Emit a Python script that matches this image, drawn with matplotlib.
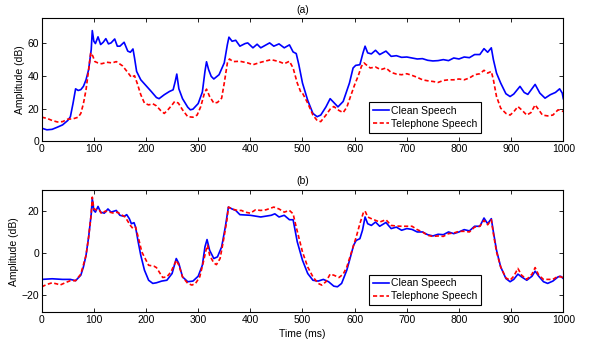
import matplotlib
matplotlib.use("Agg")
import matplotlib.pyplot as plt

plt.rcParams['font.family'] = ['Liberation Sans', 'DejaVu Sans']

# ---- Panel (a) ----
t_a_clean = [0, 10, 20, 30, 40, 50, 55, 60, 65, 70, 75, 80, 85, 90, 95, 97, 100, 103, 108, 113, 118, 123, 128, 133, 140, 145, 150, 158, 165, 170, 175, 178, 182, 190, 200, 210, 220, 225, 235, 245, 252, 256, 259, 263, 270, 280, 285, 290, 300, 308, 313, 316, 320, 325, 330, 340, 350, 356, 359, 365, 372, 380, 390, 395, 405, 413, 420, 428, 437, 445, 455, 465, 475, 482, 488, 493, 500, 510, 520, 528, 535, 545, 553, 560, 568, 578, 590, 597, 602, 610, 616, 620, 625, 632, 640, 648, 660, 670, 680, 690, 700, 710, 720, 730, 740, 750, 760, 770, 780, 790, 800, 810, 820, 830, 840, 848, 855, 862, 866, 872, 880, 890, 898, 905, 917, 925, 932, 946, 955, 965, 975, 985, 993, 998, 1000]
a_clean = [8, 7, 7.3, 8.6, 10, 12.7, 15, 23, 32, 31, 31.5, 33.5, 37.5, 43.7, 56, 67.5, 61, 59.6, 63.7, 59, 60.4, 62.6, 59.4, 60, 62.4, 58, 58, 60.4, 55, 54.3, 56.3, 50.8, 42.6, 37.5, 34, 30.4, 26.7, 26, 28.4, 30.4, 31.4, 36.5, 41, 32, 26, 20.8, 19.2, 19.6, 23, 30, 42.6, 48.5, 43.7, 39.6, 38, 40.6, 47.8, 59, 63.5, 61, 61.6, 58, 59.6, 60, 57, 59.2, 57, 58.4, 60, 58, 59.4, 57, 58.8, 54.5, 53.5, 46.7, 35.5, 25, 17, 15, 16, 21, 26, 23.7, 21, 24.3, 35.5, 44.7, 46.3, 46.7, 53.9, 58, 53.9, 53.3, 55.5, 52.9, 55, 51.8, 52.2, 51.2, 51.4, 50.8, 50.2, 50.4, 49.4, 49, 49.2, 49.8, 49.2, 50.8, 50.2, 51.4, 51, 52.9, 52.9, 56.5, 54.3, 57, 49.8, 41.6, 35.5, 29, 27.3, 28.8, 33.5, 29.8, 28.6, 34.7, 29.4, 26.3, 28.4, 29.8, 32, 29.4, 26]

t_a_tel = [0, 10, 20, 30, 40, 50, 60, 70, 75, 80, 85, 90, 94, 98, 102, 108, 115, 125, 135, 143, 155, 165, 172, 178, 183, 190, 197, 205, 213, 220, 228, 235, 242, 250, 255, 262, 270, 280, 290, 298, 305, 312, 316, 322, 330, 337, 345, 350, 356, 360, 367, 380, 395, 405, 420, 440, 455, 465, 475, 482, 490, 497, 500, 510, 520, 528, 535, 545, 553, 560, 570, 578, 585, 592, 600, 607, 613, 618, 622, 630, 640, 650, 660, 670, 680, 690, 700, 710, 720, 730, 740, 750, 760, 770, 780, 790, 800, 810, 820, 830, 840, 848, 855, 862, 866, 872, 880, 890, 898, 905, 913, 920, 930, 938, 946, 953, 960, 970, 980, 990, 1000]
a_tel = [14.7, 14, 12.7, 11.8, 12, 13.5, 13.7, 14.7, 17, 23, 31.4, 43.7, 54, 52, 48.6, 47.8, 47.3, 48.2, 47.8, 48.6, 46, 42, 39, 40, 35.5, 28.4, 23.3, 22.2, 22.9, 21.6, 18.8, 17, 19.2, 22.2, 24.3, 23.3, 19.2, 15, 14.7, 16, 21.2, 29.4, 31.8, 27.3, 23.3, 23.7, 26.3, 35.5, 47.8, 50.2, 48.6, 48.8, 47.8, 46.7, 48.2, 49.8, 48.6, 47.3, 48.8, 44.7, 35.5, 29.8, 29.4, 23.3, 16, 12.7, 12, 16, 19.6, 21.2, 18.8, 17.5, 20.8, 27.3, 34.5, 40, 45.7, 47.8, 46.7, 44.7, 45.3, 43.7, 44.7, 42, 41, 40.6, 41.2, 40.2, 39, 37.5, 36.9, 36.5, 35.9, 37.1, 37.5, 37.5, 38, 37.5, 38.6, 40.6, 41.2, 43.3, 41.6, 42.6, 37.5, 27.3, 20.2, 17, 16, 18, 21.2, 19.2, 16, 17.5, 22.2, 19.2, 16, 15.5, 16, 19.2, 18.2]

# ---- Panel (b) ----
t_b_clean = [0, 20, 40, 55, 65, 75, 80, 85, 90, 95, 97, 100, 103, 108, 113, 120, 127, 133, 143, 150, 158, 163, 168, 172, 177, 180, 185, 190, 197, 205, 213, 220, 230, 240, 250, 258, 263, 270, 280, 290, 300, 308, 313, 317, 322, 330, 337, 345, 352, 358, 365, 372, 380, 400, 420, 440, 447, 455, 465, 475, 482, 490, 500, 510, 520, 530, 540, 550, 560, 567, 575, 585, 592, 598, 603, 610, 615, 620, 625, 632, 640, 648, 660, 670, 680, 690, 700, 710, 720, 730, 740, 750, 760, 770, 780, 790, 800, 810, 820, 830, 840, 848, 855, 862, 866, 872, 880, 890, 898, 905, 913, 920, 930, 940, 946, 953, 962, 970, 980, 990, 995, 1000]
b_clean = [-12.4, -12.1, -12.4, -12.4, -13, -10.4, -6.5, -1, 7.7, 18.7, 26, 20.3, 19.5, 22.2, 19.5, 19, 21, 19.5, 20.3, 18, 17.5, 18.3, 16.4, 14, 14.5, 12.4, 5.4, -1, -8, -12.8, -14.3, -14, -13.2, -12.8, -9.6, -2.5, -4.9, -11.2, -13.5, -13.2, -10.9, -5.7, 3, 6.5, 1.4, -2.5, -1.7, 3, 12.4, 21.9, 21, 20.3, 18.3, 18, 17.2, 18, 18.7, 17.2, 18, 15.9, 15.9, 5.4, -3.3, -9.6, -12.8, -13.2, -12.4, -13.5, -15.6, -15.9, -14.3, -8, -1.7, 3.8, 6.1, 6.9, 10.9, 17.2, 14, 13.2, 14.8, 12.8, 14.6, 11.7, 12.4, 10.9, 11.7, 11.3, 10.1, 10.1, 8.8, 8.2, 9, 8.8, 10.1, 9.3, 10.1, 11.2, 10.6, 12.8, 12.8, 16.7, 14, 16.4, 10.1, 1.4, -6.5, -12, -13.5, -12.4, -9.9, -11.2, -12.8, -10.9, -8.5, -10.9, -13.5, -14.3, -13.2, -11.2, -10.9, -12]

t_b_tel = [0, 10, 20, 30, 35, 45, 55, 65, 75, 85, 90, 95, 97, 100, 105, 110, 115, 122, 130, 138, 145, 150, 160, 170, 175, 180, 185, 192, 200, 205, 215, 220, 225, 232, 240, 248, 255, 258, 263, 270, 280, 288, 295, 303, 310, 315, 318, 322, 330, 335, 342, 348, 355, 358, 365, 375, 383, 390, 400, 410, 420, 430, 445, 455, 465, 475, 482, 488, 495, 500, 510, 520, 530, 537, 545, 553, 560, 570, 578, 585, 595, 603, 610, 617, 620, 625, 632, 640, 648, 660, 670, 680, 690, 700, 710, 720, 730, 740, 750, 760, 770, 780, 790, 800, 810, 820, 830, 840, 848, 855, 862, 866, 872, 880, 890, 898, 905, 913, 920, 930, 940, 946, 953, 962, 970, 980, 990, 1000]
b_tel = [-15.9, -14.8, -14, -14.6, -15.1, -14, -13, -13, -9.9, -1, 7.7, 18.7, 26.6, 21, 20.6, 20.6, 18.7, 20, 19.5, 19, 19.5, 18.7, 17.2, 13.2, 11.7, 12.4, 7.7, 0.6, -3.3, -5.7, -6.1, -6.8, -8.8, -11.5, -11.2, -8.8, -4.9, -3.3, -5.7, -11.2, -14.3, -15.1, -14.3, -11.2, -4.1, 1.4, 3.8, -1, -4.6, -5.4, -2.5, 5.4, 15.6, 21.9, 21, 20.3, 20.3, 19.5, 19, 20.6, 20.3, 20.6, 21.9, 21, 19.5, 20.3, 18.7, 12.4, 5.4, 0.6, -6.5, -11.2, -14.3, -15.1, -13.5, -9.9, -10.4, -11.5, -9.9, -6.5, 1.4, 7.7, 14, 19.5, 20, 17.2, 16.4, 15.6, 14.8, 15.9, 13.2, 12.9, 12.8, 12.8, 12.8, 11.2, 10.1, 8.5, 8, 8.2, 8, 9.3, 9.6, 10.4, 10.4, 10.1, 12.4, 12.8, 15.6, 13.5, 15.9, 9.3, 0.6, -6.5, -11.7, -12.8, -10.9, -7.2, -10.4, -12.4, -9.9, -6.8, -10.4, -12.4, -12.4, -12.4, -10.9, -11.5]

x_ticks = [0, 100, 200, 300, 400, 500, 600, 700, 800, 900, 1000]
ya_ticks = [0, 20, 40, 60]
yb_ticks = [-20, 0, 20]
labels = ['Clean Speech', 'Telephone Speech']

fig = plt.figure(figsize=(5.93, 3.46), dpi=100)
ax1 = fig.add_axes([0.0703, 0.5916, 0.8796, 0.3555])
ax2 = fig.add_axes([0.0703, 0.0974, 0.8796, 0.3535])

fs = 7.5
for ax, tc, yc, tt, yt, ylim, yticks, title, lb in [
        (ax1, t_a_clean, a_clean, t_a_tel, a_tel, (0, 75), ya_ticks, '(a)', 0.07),
        (ax2, t_b_clean, b_clean, t_b_tel, b_tel, (-28, 30), yb_ticks, '(b)', 0.06)]:
    ax.plot(tc, yc, color='#0000ff', lw=1.2, label=labels[0])
    ax.plot(tt, yt, color='#ff0000', lw=1.2, ls=(0, (2.5, 1.5)), label=labels[1])
    ax.set_xlim(0, 1000)
    ax.set_ylim(*ylim)
    ax.set_xticks(x_ticks)
    ax.set_yticks(yticks)
    ax.tick_params(direction='in', top=True, right=True, labelsize=fs, length=3, width=0.6, pad=2)
    for s in ax.spines.values():
        s.set_linewidth(0.8)
    ax.set_ylabel('Amplitude (dB)', fontsize=fs, labelpad=2)
    ax.set_title(title, fontsize=fs, pad=4)
    leg = ax.legend(loc='lower right', bbox_to_anchor=(0.842, lb), fontsize=fs,
                    frameon=True, fancybox=False, edgecolor='black', framealpha=1,
                    handlelength=1.6, handletextpad=0.15, borderpad=0.35, labelspacing=0.3,
                    borderaxespad=0)
    leg.get_frame().set_linewidth(0.8)

ax2.set_xlabel('Time (ms)', fontsize=fs, labelpad=3)

fig.savefig('out.png', dpi=100)
